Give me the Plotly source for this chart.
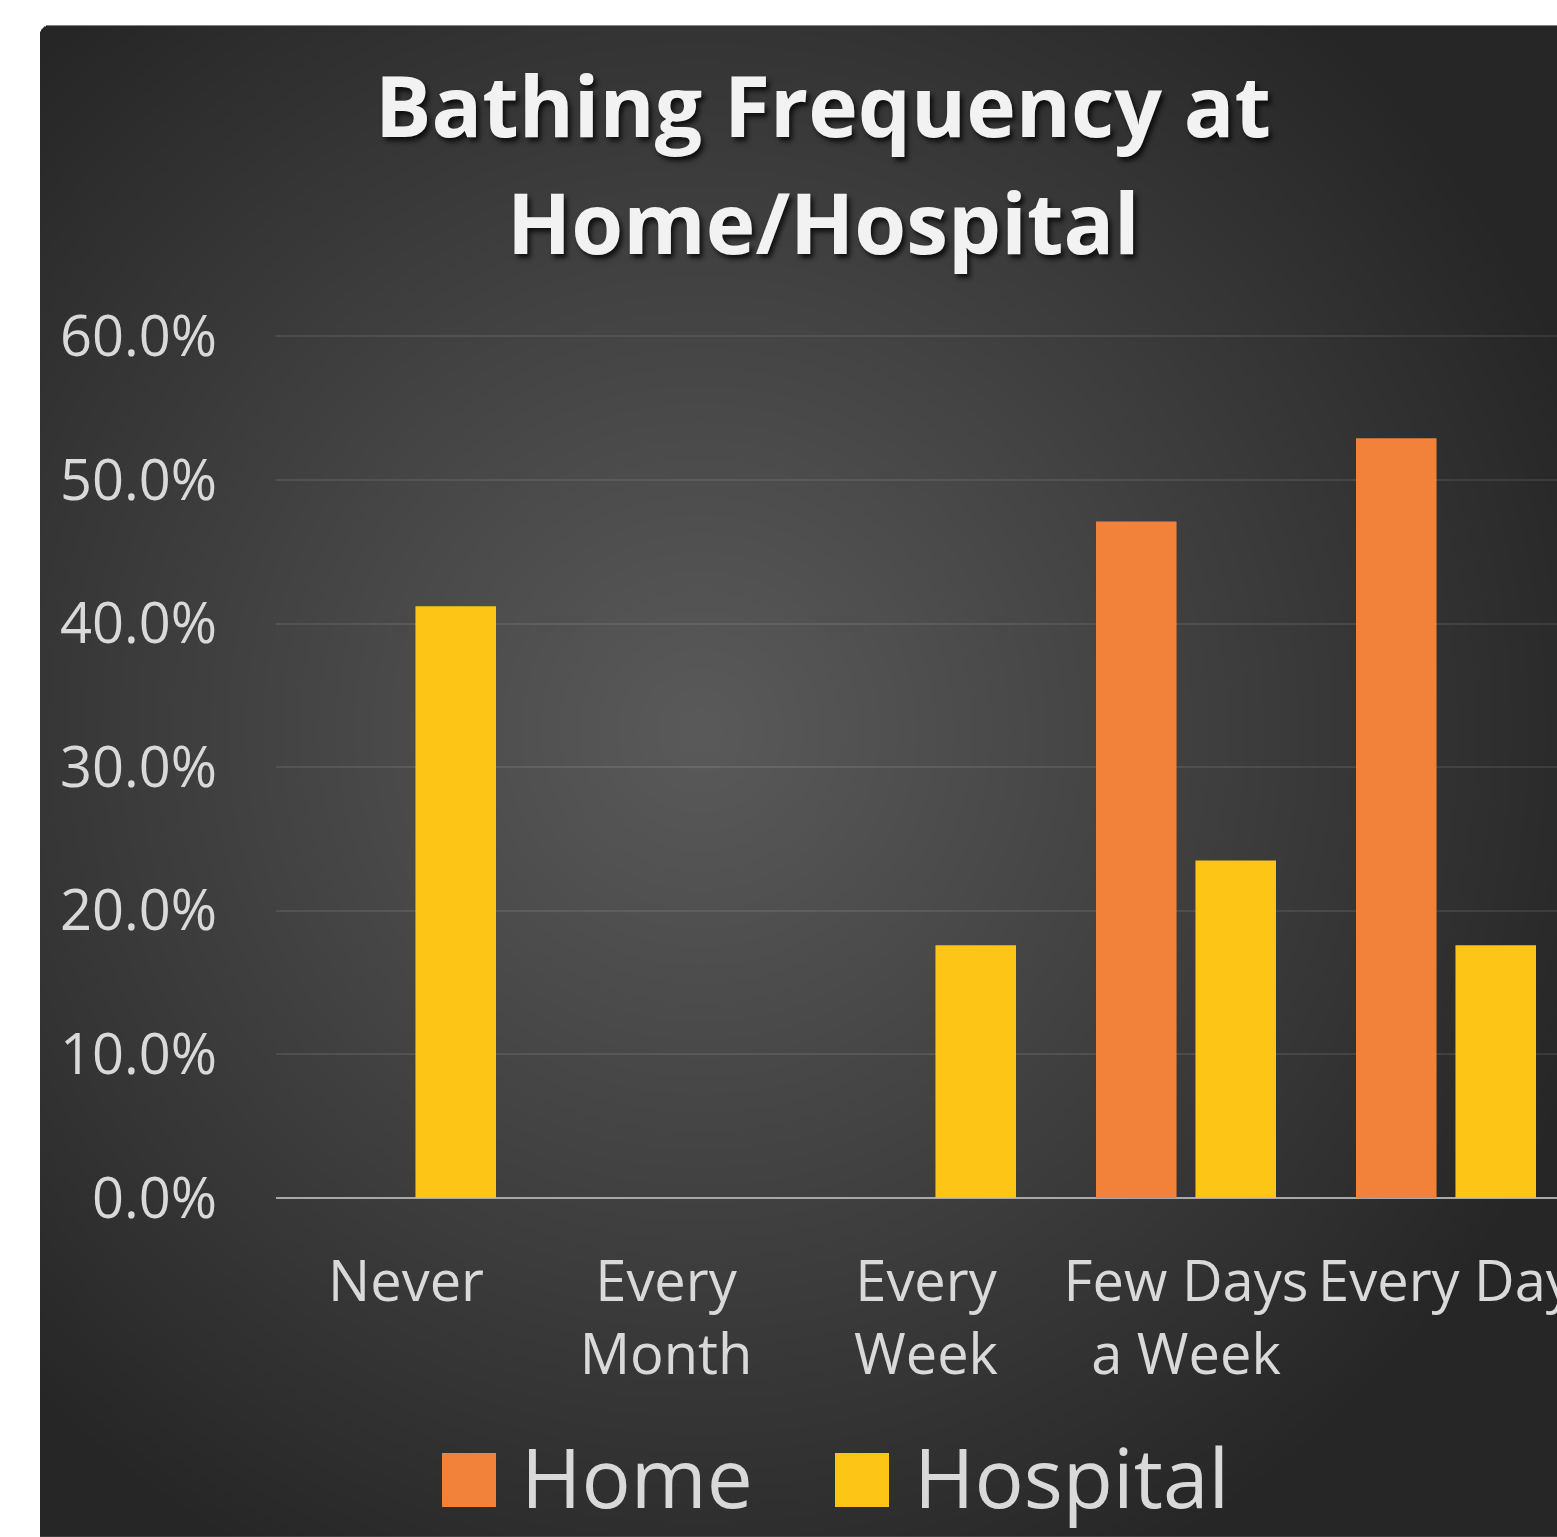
import base64, struct, zlib
import numpy as np
import plotly.graph_objects as go

# ---------------- data ----------------
categories = ["Never", "Every<br>Month", "Every<br>Week", "Few Days<br>a Week", "Every Day"]
home_values = [0.0, 0.0, 0.0, 0.471, 0.529]
hospital_values = [0.412, 0.0, 0.176, 0.235, 0.176]
series_names = ["Home", "Hospital"]
title_lines = ["Bathing Frequency at", "Home/Hospital"]
y_ticks = [0, 0.1, 0.2, 0.3, 0.4, 0.5, 0.6]

# ---------------- geometry (pixels) ----------------
W, H = 1557, 1537
Y0_PX, Y60_PX = 1198, 336
YMAX = 0.603
PL, PR, PB = 276, 1557, Y0_PX
PT = Y0_PX - (Y0_PX - Y60_PX) * YMAX / 0.6
pw, ph = PR - PL, PB - PT

def px(x):
    return (x - PL) / pw

def py(y):
    return (PB - y) / ph

# ---------------- background radial gradient PNG ----------------
def make_png(arr):
    h, w, c = arr.shape
    raw = arr.reshape(h, w * c)
    filt = raw.copy()
    filt[:, c:] = raw[:, c:] - raw[:, :-c]
    data = np.hstack([np.ones((h, 1), dtype=np.uint8), filt]).tobytes()
    def chunk(t, d):
        return struct.pack(">I", len(d)) + t + d + struct.pack(">I", zlib.crc32(t + d) & 0xffffffff)
    ctype = {1: 0, 2: 4, 3: 2, 4: 6}[c]
    png = b"\x89PNG\r\n\x1a\n" + chunk(b"IHDR", struct.pack(">IIBBBBB", w, h, 8, ctype, 0, 0, 0))
    png += chunk(b"IDAT", zlib.compress(data, 9)) + chunk(b"IEND", b"")
    return png

BX0, BY0 = 40, 25
bw, bh = W - BX0, H - BY0
yy, xx = np.mgrid[0:bh, 0:bw].astype(np.float32)
cx, cy = 700 - BX0, 730 - BY0
d = np.sqrt((xx - cx) ** 2 + (yy - cy) ** 2) / 950.0
d = np.clip(d, 0, 1)
g = 90 - 52 * d ** 1.05
g = np.clip(g, 0, 255).astype(np.uint8)
alpha = np.full((bh, bw), 255, dtype=np.uint8)
r = 9
for j in range(r):
    for i in range(r):
        if (r - i - 0.5) ** 2 + (r - j - 0.5) ** 2 > r * r:
            alpha[j, i] = 0
img = np.dstack([g, alpha])
src = "data:image/png;base64," + base64.b64encode(make_png(img)).decode()

# ---------------- figure ----------------
TXT = "#D9D9D9"
FONT = "Open Sans"
HOME_C = "#F2813A"
HOSP_C = "#FDC515"

fig = go.Figure()
fig.add_trace(go.Bar(x=categories, y=home_values, name=series_names[0],
                     marker=dict(color=HOME_C, line=dict(width=0)), showlegend=False))
fig.add_trace(go.Bar(x=categories, y=hospital_values, name=series_names[1],
                     marker=dict(color=HOSP_C, line=dict(width=0)), showlegend=False))

n_vis = pw / 260.0
fig.update_layout(
    width=W, height=H, autosize=False,
    margin=dict(l=PL, r=W - PR, t=PT, b=H - PB, pad=0, autoexpand=False),
    paper_bgcolor="white", plot_bgcolor="rgba(0,0,0,0)",
    barmode="group", bargap=0.235, bargroupgap=0.19,
    font=dict(family=FONT, color=TXT),
    xaxis=dict(range=[-0.5, -0.5 + n_vis], showgrid=False, showline=False, zeroline=False,
               automargin=False,
               ticks="", tickfont=dict(size=56, color=TXT, family=FONT), ticklabelstandoff=46,
               fixedrange=True),
    yaxis=dict(range=[0, YMAX], tickvals=y_ticks, tickformat=".1%", automargin=False,
               showgrid=True, gridcolor="rgba(255,255,255,0.09)", gridwidth=2,
               zeroline=True, zerolinecolor="#A8A8A8", zerolinewidth=2, showline=False,
               ticks="", tickfont=dict(size=56, color=TXT, family=FONT), ticklabelstandoff=58,
               fixedrange=True),
    images=[dict(source=src, xref="paper", yref="paper", x=px(BX0), y=py(BY0),
                 sizex=bw / pw, sizey=bh / ph, xanchor="left", yanchor="top",
                 sizing="stretch", layer="below")],
)

# title (two lines, positioned by baseline)
TS = 84
for line, base in zip(title_lines, [137, 254]):
    fig.add_annotation(text="<b>" + line + "</b>", xref="paper", yref="paper",
                       x=px(823), y=py(base - 0.388 * TS), xanchor="center", yanchor="middle",
                       showarrow=False,
                       font=dict(family=FONT, size=TS, color="#F2F2F2",
                                 shadow="3px 4px 5px rgba(0,0,0,0.75)"))

# legend (manual)
leg = [(442, 523, HOME_C, series_names[0]), (835, 916, HOSP_C, series_names[1])]
for sx, tx, col, name in leg:
    fig.add_shape(type="rect", xref="paper", yref="paper", x0=px(sx), x1=px(sx + 54),
                  y0=py(1507), y1=py(1453), fillcolor=col, line=dict(width=0))
    fig.add_annotation(text=name, xref="paper", yref="paper", x=px(tx - 4), y=py(1476),
                       xanchor="left", yanchor="middle", showarrow=False,
                       font=dict(family=FONT, size=82, color=TXT))

post = ("document.documentElement.style.overflow='hidden';"
        "document.body.style.overflow='hidden';document.body.style.margin='0';")
fig.write_html("out.html", config={"responsive": False}, post_script=post)
